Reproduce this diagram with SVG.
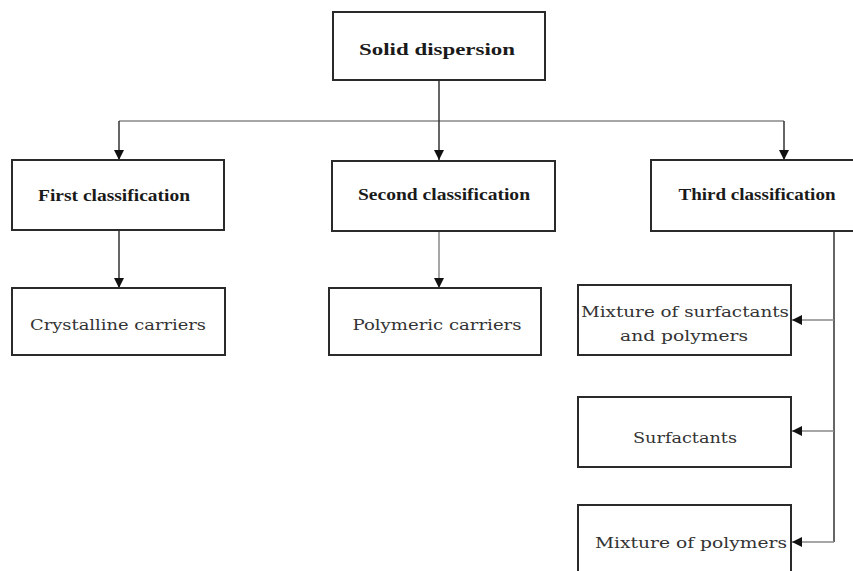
<svg xmlns="http://www.w3.org/2000/svg" width="853" height="571" viewBox="0 0 853 571">
<style>
.box{fill:#fff;stroke:#2a2a2a;stroke-width:2}
.b{font-family:"Liberation Serif","Times New Roman",serif;font-weight:bold;font-size:16px;fill:#1a1a1a;text-anchor:middle}
.r{font-family:"DejaVu Serif","Liberation Serif",serif;font-size:15.5px;fill:#333;text-anchor:middle}
.ln{fill:none;stroke:#333;stroke-width:1.5}
.lg{fill:none;stroke:#888;stroke-width:1.5}
</style>
<defs>
<marker id="ah" viewBox="0 0 10 10" refX="10" refY="5" markerWidth="10" markerHeight="10" markerUnits="userSpaceOnUse" orient="auto">
<path d="M0,0 L10,5 L0,10 Z" fill="#111"/>
</marker>
</defs>
<rect width="853" height="571" fill="#fff"/>
<g id="connectors">
<path class="lg" d="M119,121 H784"/>
<path class="ln" d="M439,81 V160" marker-end="url(#ah)"/>
<path class="ln" d="M119,121 V160" marker-end="url(#ah)"/>
<path class="ln" d="M784,121 V160" marker-end="url(#ah)"/>
<path class="ln" d="M119,231 V288" marker-end="url(#ah)"/>
<path class="lg" d="M439,231 V288" marker-end="url(#ah)"/>
<path class="ln" d="M834,231 V542"/>
<path class="lg" d="M834,320 H792" marker-end="url(#ah)"/>
<path class="lg" d="M834,431 H792" marker-end="url(#ah)"/>
<path class="lg" d="M834,542 H792" marker-end="url(#ah)"/>
</g>
<g id="solid-dispersion">
<rect class="box" x="333" y="12" width="212" height="68"/>
<text class="b" x="437" y="55" textLength="156" lengthAdjust="spacingAndGlyphs">Solid dispersion</text>
</g>
<g id="first-classification">
<rect class="box" x="12" y="160" width="212" height="70"/>
<text class="b" x="114" y="201" textLength="152" lengthAdjust="spacingAndGlyphs">First classification</text>
</g>
<g id="second-classification">
<rect class="box" x="332" y="161" width="223" height="70"/>
<text class="b" x="444" y="200" textLength="172" lengthAdjust="spacingAndGlyphs">Second classification</text>
</g>
<g id="third-classification">
<rect class="box" x="651" y="160" width="210" height="71"/>
<text class="b" x="757" y="200" textLength="157" lengthAdjust="spacingAndGlyphs">Third classification</text>
</g>
<g id="crystalline-carriers">
<rect class="box" x="12" y="288" width="213" height="67"/>
<text class="r" x="118" y="330" textLength="176" lengthAdjust="spacingAndGlyphs">Crystalline carriers</text>
</g>
<g id="polymeric-carriers">
<rect class="box" x="329" y="288" width="212" height="67"/>
<text class="r" x="437" y="330" textLength="169" lengthAdjust="spacingAndGlyphs">Polymeric carriers</text>
</g>
<g id="mixture-surfactants-polymers">
<rect class="box" x="578" y="285" width="213" height="70"/>
<text class="r" x="685" y="317" textLength="208" lengthAdjust="spacingAndGlyphs">Mixture of surfactants</text>
<text class="r" x="684" y="341" textLength="128" lengthAdjust="spacingAndGlyphs">and polymers</text>
</g>
<g id="surfactants">
<rect class="box" x="578" y="397" width="213" height="70"/>
<text class="r" x="685" y="443" textLength="104" lengthAdjust="spacingAndGlyphs">Surfactants</text>
</g>
<g id="mixture-polymers">
<rect class="box" x="578" y="505" width="213" height="80"/>
<text class="r" x="691" y="548" textLength="192" lengthAdjust="spacingAndGlyphs">Mixture of polymers</text>
</g>
</svg>
